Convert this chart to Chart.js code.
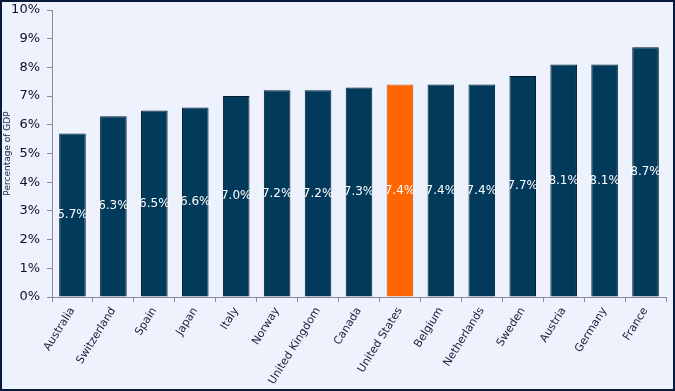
<!DOCTYPE html>
<html>
<head>
<meta charset="utf-8">
<script src="https://cdn.jsdelivr.net/npm/chart.js@4.4.1/dist/chart.umd.min.js"></script>
<style>
  html, body { margin: 0; padding: 0; background: #eef2fc; }
  #wrap { width: 675px; height: 391px; }
</style>
</head>
<body>
<div id="wrap"><canvas id="myChart" width="675" height="391"></canvas></div>
<script>
// 국가별 데이터
var countries = ['Australia', 'Switzerland', 'Spain', 'Japan', 'Italy', 'Norway', 'United Kingdom',
    'Canada', 'United States', 'Belgium', 'Netherlands', 'Sweden', 'Austria', 'Germany', 'France'];
var gdpShare = [5.7, 6.3, 6.5, 6.6, 7.0, 7.2, 7.2, 7.3, 7.4, 7.4, 7.4, 7.7, 8.1, 8.1, 8.7];
var yTicks = ['0%', '1%', '2%', '3%', '4%', '5%', '6%', '7%', '8%', '9%', '10%'];

var barColors = [];
var edgeColors = [];
for (var i = 0; i < countries.length; i++) {
    if (countries[i] == 'United States') {
        barColors.push('#ff6600');
        edgeColors.push('#c85000');
    } else {
        barColors.push('#023a5c');
        edgeColors.push('#001a2c');
    }
}

// 배경 + 테두리
var framePlugin = {
    id: 'frame',
    beforeDraw: function(chart) {
        var ctx = chart.ctx;
        ctx.save();
        ctx.fillStyle = '#eef2fc';
        ctx.fillRect(0, 0, chart.width, chart.height);
        ctx.restore();
    },
    afterDraw: function(chart) {
        var ctx = chart.ctx;
        ctx.save();
        ctx.strokeStyle = '#0a1a3a';
        ctx.lineWidth = 2;
        ctx.strokeRect(1, 1, chart.width - 2, chart.height - 2);
        ctx.restore();
    }
};

// 막대 가운데 값 표시
var valueLabels = {
    id: 'valueLabels',
    afterDatasetsDraw: function(chart) {
        var ctx = chart.ctx;
        var meta = chart.getDatasetMeta(0);
        ctx.save();
        ctx.font = '12px "DejaVu Sans"';
        ctx.fillStyle = '#ffffff';
        ctx.textAlign = 'center';
        ctx.textBaseline = 'middle';
        meta.data.forEach(function(bar, i) {
            var mid = (bar.y + bar.base) / 2;
            ctx.fillText(gdpShare[i].toFixed(1) + '%', bar.x, mid);
        });
        ctx.restore();
    }
};

var ctx1 = document.getElementById('myChart').getContext('2d');
var myChart1 = new Chart(ctx1, {
    type: 'bar',
    data: {
        labels: countries,
        datasets: [{
            data: gdpShare,
            backgroundColor: barColors,
            borderColor: edgeColors,
            borderWidth: 1,
            categoryPercentage: 1.0,
            barPercentage: 0.65
        }]
    },
    options: {
        responsive: false,
        animation: false,
        layout: { padding: { top: 0, right: 9, left: 0, bottom: 0 } },
        plugins: {
            legend: { display: false },
            tooltip: { enabled: false }
        },
        scales: {
            y: {
                min: 0,
                max: 10,
                afterFit: function(scale) {
                    scale.width = 52;
                    scale.paddingTop = 10;
                },
                ticks: {
                    stepSize: 1,
                    padding: 7,
                    color: '#0e0e2a',
                    font: { family: 'DejaVu Sans', size: 13 },
                    callback: function(v) { return yTicks[v]; }
                },
                grid: {
                    drawOnChartArea: false,
                    tickLength: 5,
                    color: '#8a8a9a'
                },
                border: { color: '#8a8a9a' },
                title: {
                    display: true,
                    text: 'Percentage of GDP',
                    color: '#1c1c3c',
                    font: { family: 'DejaVu Sans', size: 9 },
                    padding: { top: 2, bottom: 0 }
                }
            },
            x: {
                afterFit: function(scale) { scale.height = 94; },
                ticks: {
                    minRotation: 58,
                    maxRotation: 58,
                    autoSkip: false,
                    color: '#1c1c3c',
                    font: { family: 'DejaVu Sans', size: 11 }
                },
                grid: {
                    offset: true,
                    drawOnChartArea: false,
                    tickLength: 5,
                    color: '#8a8a9a'
                },
                border: { color: '#8a8a9a' }
            }
        }
    },
    plugins: [framePlugin, valueLabels]
});
</script>
</body>
</html>
